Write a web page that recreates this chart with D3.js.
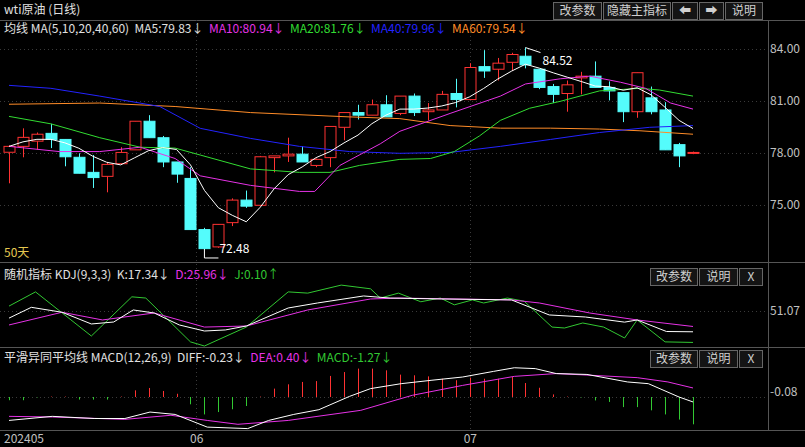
<!DOCTYPE html>
<html><head><meta charset="utf-8">
<script src="https://cdn.jsdelivr.net/npm/d3@7"></script>
<style>
body{margin:0;background:#000;}
svg{display:block;font-family:"Noto Sans CJK SC","DejaVu Sans",sans-serif;}
</style></head>
<body><div id="chart"></div>
<script>
// daily OHLC, 50 days
const opens  = [78.06,78.40,78.70,79.15,78.80,77.77,76.90,76.67,77.40,78.20,79.85,78.90,77.50,76.55,73.60,72.60,74.00,75.30,75.00,77.75,
                77.85,77.95,77.30,77.75,79.50,80.35,80.20,80.80,80.30,81.30,80.40,80.50,81.45,81.10,83.00,82.85,83.25,83.60,82.85,81.85,
                81.45,82.35,82.45,81.80,81.50,80.40,81.20,80.50,78.50,78.00];
const closes = [78.40,78.92,79.10,78.80,77.80,76.85,76.60,77.36,78.05,79.85,78.90,77.50,76.80,73.60,72.50,73.90,75.30,74.95,77.80,77.85,
                77.95,77.50,77.65,79.55,80.35,80.20,80.80,80.10,81.30,80.35,80.50,81.40,81.10,82.95,82.75,83.20,83.70,83.10,81.80,81.40,
                81.95,82.45,81.80,81.60,80.40,82.65,80.40,78.20,77.85,78.05];
const highs  = [78.46,79.44,79.20,79.70,78.80,78.00,77.90,77.50,78.35,79.85,80.20,79.00,77.50,77.20,73.70,73.90,75.40,75.85,77.85,77.85,
                78.90,78.40,77.70,79.55,80.35,80.80,81.10,81.35,81.30,81.45,80.90,81.60,82.30,83.20,83.95,83.50,83.80,84.10,82.85,82.00,
                82.20,82.70,83.30,82.15,81.50,82.65,81.85,80.95,78.60,78.10];
const lows   = [76.27,77.77,78.20,78.30,77.25,76.85,76.00,75.75,77.40,78.20,78.90,77.20,76.30,73.60,72.48,72.55,73.80,74.85,75.00,76.90,
                77.50,77.50,77.20,77.20,78.75,79.95,80.20,80.10,80.20,80.15,79.90,80.50,80.65,81.10,82.35,82.20,82.75,82.90,81.70,80.90,
                80.40,81.40,81.80,81.05,79.80,80.05,80.25,78.20,77.20,77.95];

// moving averages: [day, value]
const ma10 = [[0,78.4],[3.6,78.1],[6.5,78.1],[9.4,78.35],[11.9,77.7],[13.7,76.7],[17.3,76.15],[20.8,75.8],[21.9,75.8],[23.7,77.3],[26.6,78.55],[28,79.27],[31.6,80.3],[35.2,81.3],[37,82.0],[39.5,82.3],[41.6,82.45],[43.8,82.1],[45.6,81.75],[47.4,80.9],[49,80.55]];
const ma20 = [[0,80.13],[3,79.7],[6.5,78.9],[9.4,78.35],[11.9,78.3],[13.7,77.9],[17.3,77.1],[20.8,76.9],[23,76.9],[25.1,77.3],[28,77.65],[30.2,77.7],[31.9,78.1],[33.7,79.0],[35.2,79.9],[37.3,80.6],[39.5,81.0],[42.3,81.6],[45.2,81.75],[46.6,81.65],[49,81.3]];
const ma40 = [[0,81.92],[3,81.75],[6.5,81.3],[10.8,80.7],[13.7,79.44],[17.3,78.86],[20.8,78.4],[24.4,78.1],[28,78.0],[31.6,78.05],[35.2,78.4],[38.8,78.8],[42.3,79.2],[45.9,79.5],[49,79.6]];
const ma60 = [[0,80.83],[6.5,80.9],[11.9,80.7],[17.3,80.35],[24.4,80.1],[28,80.0],[31.6,79.6],[35.2,79.45],[38.8,79.45],[42.3,79.4],[45.2,79.3],[49,79.1]];

// KDJ
const kdjK = [[0,39.5],[1.6,57],[3.8,49],[5.9,30],[7.5,33.2],[8.9,52.7],[10.4,47.8],[12.2,28.4],[14,18.6],[15.5,20.3],[17,26.7],[20,55.9],[22.1,64],[25.4,75.4],[27.3,72],[31,70.5],[36,69],[38.7,44.6],[41.3,41.3],[44.1,33],[45,36.5],[47.1,17.8],[49,17.34]];
const kdjD = [[0,28.4],[3.8,49],[6.7,36.5],[10.4,47.8],[14,25],[17,26.7],[21.4,52.7],[25.9,70.5],[28,72],[36,69],[38,64],[41.6,47.8],[45,36.5],[49,25.96]];
const kdjJ = [[0,59],[1.9,82],[5.9,10.5],[8.8,74],[9.8,72],[13,1],[14,-5.7],[17,25],[20,82],[21.4,80],[23.8,93],[25.9,87],[26.6,72],[27.9,80],[29.5,66],[30.9,72],[31.9,61],[33.2,69],[34,64],[35.7,72],[36.9,67],[38.9,25],[39.8,23.5],[41.1,31.6],[42.6,25],[44.1,7.3],[45,36.5],[47,1],[49,0.1]];

// MACD
const macdHist = [-0.15,-0.15,-0.02,0.02,0.02,-0.12,-0.12,-0.12,0.02,0.31,0.42,0.28,0.15,-0.34,-0.81,-0.70,-0.57,-0.42,0.02,0.39,
                  0.59,0.70,0.74,0.98,1.16,1.32,1.32,1.24,1.04,1.01,0.96,0.85,0.78,0.90,0.85,0.85,0.93,0.65,0.43,0.12,
                  0.02,-0.02,-0.16,-0.23,-0.47,-0.47,-0.62,-0.81,-1.05,-1.27];
const macdDiff = [[0,-1.09],[3.1,-0.9],[6.1,-1.0],[8.3,-1.0],[10.1,-0.70],[11.9,-0.81],[14.2,-1.4],[17.1,-1.47],[18.6,-1.09],[20.4,-0.81],[22.2,-0.59],[24.4,0.03],[25.9,0.39],[28.1,0.62],[30.3,0.78],[32.5,0.93],[34.7,1.19],[36.2,1.36],[37.7,1.32],[39.2,1.09],[41.4,1.05],[44.3,0.70],[45.8,0.62],[48,0],[49,-0.23]];
const macdDea  = [[0,-0.9],[3.1,-0.93],[8.3,-1.04],[11.6,-0.85],[14.2,-1.09],[16.4,-1.27],[20,-1.09],[25.2,-0.62],[28.9,0.08],[32.5,0.54],[36.2,0.96],[39.2,1.09],[41.7,1.01],[45,0.9],[47.2,0.70],[49,0.42]];

const priceTicks = [75, 78, 81, 84];
const monthTicks = [{i: 0, label: "202405", x0: true}, {i: 13.4, label: "06"}, {i: 33, label: "07"}];

// MA5 from closes
const ma5 = closes.map((c, i) => {
    const w = closes.slice(Math.max(0, i - 4), i + 1);
    return [i, d3.mean(w)];
});

const W = 805, H = 447, axisX = 768;
const RED = "#ff3232", CYAN = "#54fcfc", GRID = "#5a0000";
const svg = d3.select("#chart").append("svg").attr("width", W).attr("height", H);
svg.append("rect").attr("width", W).attr("height", H).attr("fill", "#000");

const x = d3.scaleLinear().domain([0, 49]).range([9, 693]);
const yP = d3.scaleLinear().domain([72, 84]).range([257.3, 49.3]);
const yK = d3.scaleLinear().domain([-7.3, 128.8]).range([347, 263]);
const yM = d3.scaleLinear().domain([0, 1]).range([397, 375.5]);

// frame lines
const frame = svg.append("g").attr("stroke", "#555").attr("stroke-width", 1);
[20.5, 262.5, 347.5, 430.5].forEach(y => frame.append("line").attr("x1", 0).attr("x2", W).attr("y1", y).attr("y2", y));
frame.append("line").attr("x1", axisX + .5).attr("x2", axisX + .5).attr("y1", 20).attr("y2", 430);

// grid
const grid = svg.append("g").attr("stroke", "#3a3a3a").attr("stroke-dasharray", "1,3");
priceTicks.forEach(p => grid.append("line").attr("x1", 0).attr("x2", axisX).attr("y1", Math.round(yP(p)) + .5).attr("y2", Math.round(yP(p)) + .5));
[yK(51.07), yM(0)].forEach(y => grid.append("line").attr("x1", 0).attr("x2", axisX).attr("y1", Math.round(y) + .5).attr("y2", Math.round(y) + .5));
monthTicks.slice(1).forEach(m => grid.append("line").attr("x1", Math.round(x(m.i)) + .5).attr("x2", Math.round(x(m.i)) + .5).attr("y1", 20).attr("y2", 430));

// price axis labels
const axG = svg.append("g").attr("font-size", 12).attr("fill", "#c0c0c0");
priceTicks.forEach(p => axG.append("text").attr("x", 770).attr("y", yP(p) + 4).text(p.toFixed(2)));
axG.append("text").attr("x", 770).attr("y", yK(51.07) + 4).text("51.07");
axG.append("text").attr("x", 770).attr("y", yM(0) - 1).text("-0.08");
monthTicks.forEach(m => axG.append("text").attr("x", m.x0 ? 4 : x(m.i) - 6).attr("y", 443).text(m.label));

// candles
const cg = svg.append("g");
closes.forEach((c, i) => {
    const o = opens[i], up = c >= o, col = up ? RED : CYAN;
    const cx = Math.round(x(i)) + .5;
    const top = yP(Math.max(o, c)), bot = yP(Math.min(o, c));
    cg.append("line").attr("x1", cx).attr("x2", cx).attr("y1", yP(highs[i])).attr("y2", yP(lows[i])).attr("stroke", col);
    cg.append("rect").attr("x", cx - 5.5).attr("y", top).attr("width", 11).attr("height", Math.max(1, bot - top))
        .attr("fill", up ? "#000" : CYAN).attr("stroke", col);
});

function drawLine(pts, yScale, color) {
    svg.append("path").datum(pts).attr("fill", "none").attr("stroke", color).attr("stroke-width", 1)
        .attr("d", d3.line().x(d => x(d[0])).y(d => yScale(d[1])));
}
drawLine(ma60, yP, "#ff8c28");
drawLine(ma40, yP, "#2323ff");
drawLine(ma20, yP, "#32dc32");
drawLine(ma10, yP, "#e632e6");
drawLine(ma5, yP, "#ffffff");

// high / low markers
const hi = d3.maxIndex(highs), lo = d3.minIndex(lows);
svg.append("path").attr("stroke", "#fff").attr("fill", "none")
    .attr("d", `M${x(hi)},${yP(highs[hi])}L${x(hi) + 15},${yP(highs[hi]) + 5}`);
svg.append("text").attr("x", x(hi) + 17).attr("y", yP(highs[hi]) + 17).attr("fill", "#fff").attr("font-size", 12).text("84.52");
svg.append("path").attr("stroke", "#fff").attr("fill", "none")
    .attr("d", `M${x(lo)},${yP(lows[lo])}L${x(lo)},${yP(lows[lo]) + 9}L${x(lo) + 14},${yP(lows[lo]) + 9}`);
svg.append("text").attr("x", x(lo) + 15).attr("y", yP(lows[lo]) + 4).attr("fill", "#fff").attr("font-size", 12).text("72.48");

// KDJ
const clipK = svg.append("clipPath").attr("id", "ck").append("rect").attr("x", 0).attr("y", 263).attr("width", axisX).attr("height", 84);
const kG = svg.append("g").attr("clip-path", "url(#ck)");
[[kdjJ, "#32c832"], [kdjD, "#e632e6"], [kdjK, "#ffffff"]].forEach(([pts, c]) =>
    kG.append("path").datum(pts).attr("fill", "none").attr("stroke", c).attr("d", d3.line().x(d => x(d[0])).y(d => yK(d[1]))));

// MACD
svg.append("clipPath").attr("id", "cm").append("rect").attr("x", 0).attr("y", 348).attr("width", axisX).attr("height", 82);
const mG = svg.append("g").attr("clip-path", "url(#cm)");
macdHist.forEach((v, i) => {
    const cx = Math.round(x(i)) + .5;
    mG.append("line").attr("x1", cx).attr("x2", cx).attr("y1", yM(0)).attr("y2", yM(v)).attr("stroke", v >= 0 ? RED : "#32c832");
});
[[macdDea, "#e632e6"], [macdDiff, "#ffffff"]].forEach(([pts, c]) =>
    mG.append("path").datum(pts).attr("fill", "none").attr("stroke", c).attr("d", d3.line().x(d => x(d[0])).y(d => yM(d[1]))));

// title and legends
function legend(y, parts) {
    const t = svg.append("text").attr("x", 4).attr("y", y).attr("font-size", 12).attr("xml:space", "preserve");
    parts.forEach(([s, c]) => t.append("tspan").attr("fill", c).text(s));
}
svg.append("text").attr("x", 4).attr("y", 14).attr("font-size", 12).attr("fill", "#e0e0e0").text("wti原油 (日线)");
legend(33, [["均线 MA(5,10,20,40,60)  ", "#e0e0e0"], ["MA5:79.83↓  ", "#e0e0e0"], ["MA10:80.94↓  ", "#e632e6"],
    ["MA20:81.76↓  ", "#32dc32"], ["MA40:79.96↓  ", "#2323ff"], ["MA60:79.54↓", "#ff8c28"]]);
legend(279, [["随机指标 KDJ(9,3,3)  K:17.34↓  ", "#e0e0e0"], ["D:25.96↓  ", "#e632e6"], ["J:0.10↑", "#32c832"]]);
legend(362, [["平滑异同平均线 MACD(12,26,9)  DIFF:-0.23↓  ", "#e0e0e0"], ["DEA:0.40↓  ", "#e632e6"], ["MACD:-1.27↓", "#32c832"]]);
svg.append("text").attr("x", 4).attr("y", 257).attr("font-size", 12).attr("fill", "#e6c850").text("50天");

// buttons
function buttons(y, list) {
    list.forEach(([x0, w, label]) => {
        svg.append("rect").attr("x", x0 + .5).attr("y", y + .5).attr("width", w).attr("height", 17)
            .attr("fill", "#141414").attr("stroke", "#666");
        svg.append("text").attr("x", x0 + w / 2 + .5).attr("y", y + 13).attr("text-anchor", "middle")
            .attr("font-size", 12).attr("fill", "#d0d0d0").text(label);
    });
}
buttons(2, [[553, 48, "改参数"], [603, 67, "隐藏主指标"], [672, 25, "⬅"], [699, 24, "➡"], [725, 37, "说明"]]);
buttons(268, [[650, 47, "改参数"], [699, 38, "说明"], [739, 23, "X"]]);
buttons(350, [[650, 47, "改参数"], [699, 38, "说明"], [739, 23, "X"]]);
</script>
</body></html>
